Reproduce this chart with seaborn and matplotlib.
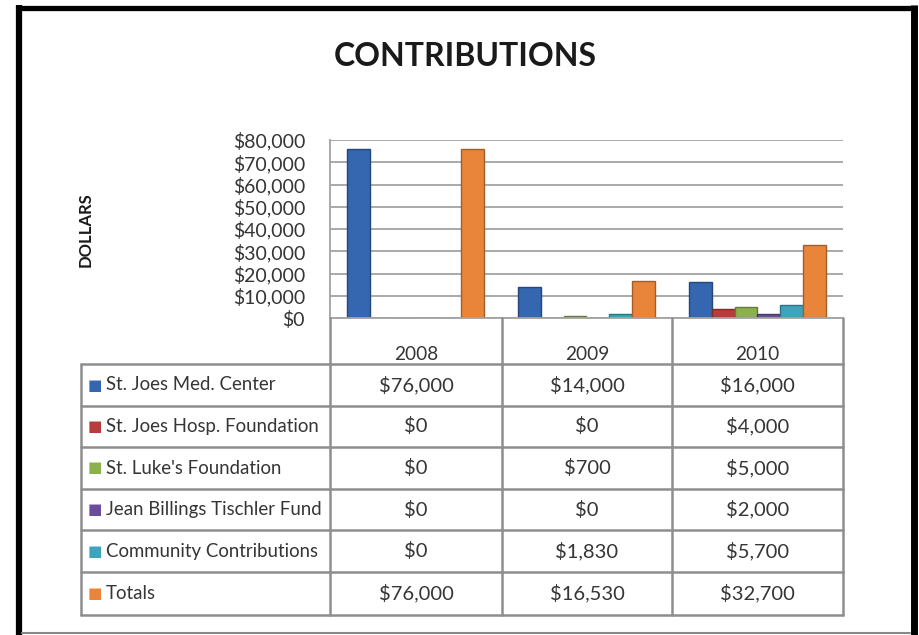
import matplotlib
matplotlib.use("Agg")
import matplotlib.pyplot as plt
import matplotlib.colors as mcolors
import numpy as np
import pandas as pd
import seaborn as sns
from matplotlib.ticker import FuncFormatter

# ---------------- data ----------------
years = ["2008", "2009", "2010"]
series = ["St. Joes Med. Center", "St. Joes Hosp. Foundation", "St. Luke's Foundation",
          "Jean Billings Tischler Fund", "Community Contributions", "Totals"]
med_center = [76000, 14000, 16000]
hosp_foundation = [0, 0, 4000]
lukes_foundation = [0, 700, 5000]
tischler_fund = [0, 0, 2000]
community = [0, 1830, 5700]
totals = [76000, 16530, 32700]
y_ticks = [0, 10000, 20000, 30000, 40000, 50000, 60000, 70000, 80000]

values = [med_center, hosp_foundation, lukes_foundation, tischler_fund, community, totals]
colors = ["#3566B0", "#B83C3A", "#8DB04F", "#6A4E9C", "#3FA3BE", "#E9853A"]

df = pd.DataFrame([
    {"Year": y, "Series": s, "Amount": v}
    for s, vals in zip(series, values) for y, v in zip(years, vals)
])

sns.set_theme(style="white")
plt.rcParams["font.family"] = ["Lato", "DejaVu Sans"]

W, H = 919, 635
fig = plt.figure(figsize=(W / 100, H / 100), dpi=100)
fig.patch.set_facecolor("white")

# pixel layout helpers
col_x = [330, 502, 672, 843]
row_y = [364, 406, 447, 489, 530, 572, 615]
ax_top, ax_bot = 140, 318
txt = "#353535"

ax = fig.add_axes([col_x[0] / W, 1 - ax_bot / H, (col_x[-1] - col_x[0]) / W, (ax_bot - ax_top) / H])
sns.barplot(data=df, x="Year", y="Amount", hue="Series", hue_order=series, order=years,
            palette=colors, width=0.8, saturation=1, ax=ax, legend=False, linewidth=0)
for p in ax.patches:
    fc = np.array(mcolors.to_rgb(p.get_facecolor()))
    p.set_edgecolor(tuple(fc * 0.7))
    p.set_linewidth(1.0)
ax.set_ylim(0, 80000)
ax.set_xlim(-0.5, 2.5)
ax.set_yticks(y_ticks)
ax.yaxis.set_major_formatter(FuncFormatter(lambda v, p: f"${v:,.0f}"))
ax.tick_params(axis="y", length=0, pad=18, labelsize=14, labelcolor=txt)
ax.set_xticks([])
ax.set_xlabel("")
ax.set_ylabel("")
ax.grid(axis="y", color="#a3a3a3", linewidth=1.3)
ax.set_axisbelow(True)
for side in ["top", "right"]:
    ax.spines[side].set_visible(False)
for side in ["left", "bottom"]:
    ax.spines[side].set_color("#a3a3a3")
    ax.spines[side].set_linewidth(1.3)
ax.patch.set_alpha(0)

# ---------------- overlay: title, frame, data table ----------------
ov = fig.add_axes([0, 0, 1, 1])
ov.set_xlim(0, W)
ov.set_ylim(H, 0)
ov.axis("off")
ov.patch.set_alpha(0)

ov.text(465, 57, "CONTRIBUTIONS", ha="center", va="center", fontsize=23, fontweight="bold", color="#1a1a1a")
ov.text(86, 230, "DOLLARS", ha="center", va="center", rotation=90, fontsize=12, fontweight="bold", color="#1a1a1a")

# frame
ov.plot([19, 19], [5, H], color="black", linewidth=4.5, solid_capstyle="butt")
ov.plot([16, 917], [7.5, 7.5], color="black", linewidth=3.8, solid_capstyle="butt")
ov.plot([913.5, 913.5], [5, H], color="black", linewidth=5, solid_capstyle="butt")
ov.plot([22, 910], [633, 633], color="#888888", linewidth=1.5)

# table grid
lc, lw = "#8e8e8e", 1.8
for yy in row_y:
    ov.plot([81, col_x[-1]], [yy, yy], color=lc, linewidth=lw)
ov.plot([81, 81], [row_y[0], row_y[-1]], color=lc, linewidth=lw)
for xx in col_x:
    ov.plot([xx, xx], [ax_bot, row_y[-1]], color=lc, linewidth=lw)

centers = [(col_x[i] + col_x[i + 1]) / 2 for i in range(len(years))]
for cx, yr in zip(centers, years):
    ov.text(cx, 355, yr, ha="center", va="center", fontsize=13.7, color=txt)

for r, (name, vals, c) in enumerate(zip(series, values, colors)):
    cy = (row_y[r] + row_y[r + 1]) / 2
    ov.text(95, cy, "\u25a0", ha="center", va="center", fontsize=11, color=c, family="DejaVu Sans")
    ov.text(106, cy, name, ha="left", va="center", fontsize=13.4, color=txt)
    for cx, v in zip(centers, vals):
        ov.text(cx, cy, f"${v:,.0f}", ha="center", va="center", fontsize=14.5, color=txt)

fig.savefig("out.png", dpi=100)
